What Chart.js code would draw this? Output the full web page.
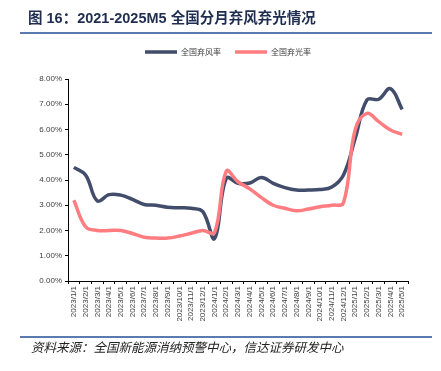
<!DOCTYPE html>
<html><head><meta charset="utf-8">
<script src="https://cdn.jsdelivr.net/npm/chart.js@4.4.1/dist/chart.umd.min.js"></script>
<style>
html,body{margin:0;padding:0;background:#fff;}
#wrap{position:relative;width:441px;height:371px;overflow:hidden;background:#fff;}
#title{position:absolute;left:28px;top:9px;line-height:18px;font-weight:bold;font-size:14.5px;font-family:"Liberation Sans","Noto Sans CJK SC",sans-serif;color:#1F2D50;white-space:nowrap;}
.rule{position:absolute;left:20px;width:412px;height:2px;background:#5A7BAF;}
#src{position:absolute;left:31px;top:338px;line-height:18px;font-size:12.5px;font-style:italic;font-family:"Noto Sans CJK SC",sans-serif;color:#222;white-space:nowrap;}
canvas{position:absolute;left:0;top:0;}
</style></head>
<body><div id="wrap">
<canvas id="c" width="441" height="371"></canvas>
<div id="title">图 16：2021-2025M5 全国分月弃风弃光情况</div>
<div class="rule" style="top:32px"></div>
<div class="rule" style="top:336px"></div>
<div id="src">资料来源：全国新能源消纳预警中心，信达证券研发中心</div>
</div>
<script>
const months = ["2023/1/1","2023/2/1","2023/3/1","2023/4/1","2023/5/1","2023/6/1","2023/7/1","2023/8/1","2023/9/1","2023/10/1","2023/11/1","2023/12/1",
"2024/1/1","2024/2/1","2024/3/1","2024/4/1","2024/5/1","2024/6/1","2024/7/1","2024/8/1","2024/9/1","2024/10/1","2024/11/1","2024/12/1",
"2025/1/1","2025/2/1","2025/3/1","2025/4/1","2025/5/1"];
const windCurtail = [4.50,4.20,3.17,3.42,3.40,3.23,3.03,3.00,2.92,2.90,2.88,2.75,1.68,4.07,3.87,3.88,4.10,3.87,3.70,3.60,3.60,3.62,3.72,4.20,5.65,7.17,7.20,7.62,6.80];
const solarCurtail = [3.20,2.15,2.00,2.00,2.00,1.88,1.73,1.70,1.70,1.78,1.89,2.00,1.92,4.35,3.93,3.65,3.30,3.00,2.88,2.78,2.85,2.94,3.00,3.10,6.00,6.64,6.31,5.98,5.81];
const seriesNames = ["全国弃风率","全国弃光率"];
const yTicks = [0,1,2,3,4,5,6,7,8];

const legendSpacer = {
  id:'legendSpacer',
  beforeLayout(chart){
    const lg = chart.legend;
    if (lg && !lg._sp){
      const f = lg.fit.bind(lg);
      lg.fit = function(){ f(); this.height += 13; };
      lg._sp = true;
    }
  }
};

new Chart(document.getElementById('c'), {
  type:'line',
  data:{
    labels: months,
    datasets:[
      {label:seriesNames[0], data:windCurtail, borderColor:'#414D6B', backgroundColor:'#414D6B', borderWidth:3.5, pointRadius:0, tension:0.4, order:1},
      {label:seriesNames[1], data:solarCurtail, borderColor:'#FF7C80', backgroundColor:'#FF7C80', borderWidth:3.5, pointRadius:0, tension:0.4, order:0}
    ]
  },
  plugins:[legendSpacer],
  options:{
    responsive:false, animation:false, devicePixelRatio:1,
    layout:{padding:{left:15,right:0,top:34,bottom:35}},
    plugins:{
      tooltip:{enabled:false},
      legend:{
        position:'top', align:'center',
        labels:{
          boxWidth:32, boxHeight:3.5, padding:14, color:'#404040',
          font:{size:8, family:'"Noto Sans CJK SC", sans-serif'},
          generateLabels:(chart)=>chart.data.datasets.map((ds,i)=>({text:ds.label, fillStyle:ds.borderColor, strokeStyle:ds.borderColor, lineWidth:0, hidden:false, datasetIndex:i, fontColor:'#404040'}))
        }
      }
    },
    scales:{
      x:{
        type:'category', offset:true,
        grid:{drawOnChartArea:false, drawTicks:true, tickLength:3, color:'#000', offset:true},
        border:{display:true, color:'#000', width:1},
        ticks:{minRotation:90, maxRotation:90, autoSkip:false, padding:2, color:'#404040', font:{size:8, family:'"Liberation Sans", Arial, sans-serif'}},
        afterFit:(s)=>{ s.height = 55; }
      },
      y:{
        min:0, max:8,
        afterBuildTicks:(s)=>{ s.ticks = yTicks.map(v=>({value:v})); },
        grid:{drawOnChartArea:false, drawTicks:true, tickLength:3, color:'#000'},
        border:{display:true, color:'#000', width:1},
        ticks:{padding:3, color:'#404040', font:{size:8, family:'"Liberation Sans", Arial, sans-serif'}, callback:(v)=>Number(v).toFixed(2)+'%'},
        afterFit:(s)=>{ s.width = 53; }
      },
      y2:{
        position:'right', display:true,
        grid:{display:false, drawTicks:false}, border:{display:false}, ticks:{display:false},
        afterFit:(s)=>{ s.width = 33; }
      }
    }
  }
});
</script>
</body></html>
